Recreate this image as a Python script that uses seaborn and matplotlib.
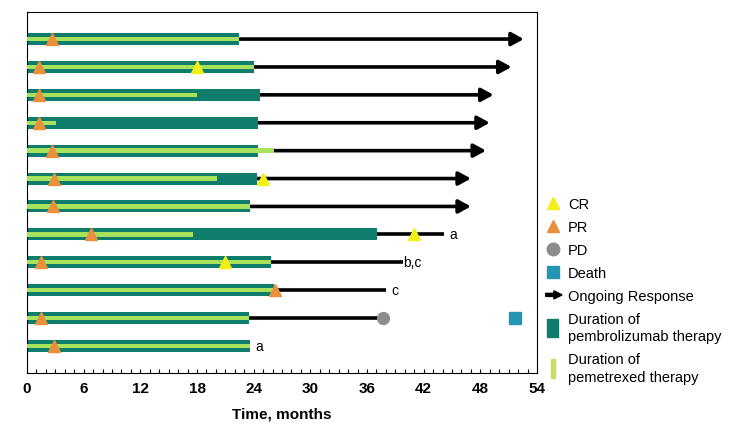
import matplotlib
matplotlib.use("Agg")
import matplotlib.pyplot as plt
import matplotlib.patches as mpatches
from matplotlib.lines import Line2D
from matplotlib.legend_handler import HandlerPatch
from matplotlib.ticker import MultipleLocator
import seaborn as sns

# one row per patient, top to bottom (months)
patients = ["P1", "P2", "P3", "P4", "P5", "P6", "P7", "P8", "P9", "P10", "P11", "P12"]
pembro_end = [22.4, 24.0, 24.7, 24.5, 24.5, 24.3, 23.6, 37.1, 25.8, 26.1, 23.5, 23.6]
pemetrexed_end = [22.4, 24.0, 18.0, 3.1, 26.1, 20.1, 23.6, 17.6, 25.8, 26.1, 23.5, 23.6]
pr_time = [2.65, 1.3, 1.3, 1.3, 2.65, 2.85, 2.75, 6.8, 1.5, 26.3, 1.5, 2.85]
cr_rows = [1, 5, 7, 8]
cr_time = [18.0, 25.0, 41.0, 21.0]
# follow-up lines; ongoing response drawn with an arrow head
followup_end = [52.6, 51.3, 49.4, 49.0, 48.6, 47.0, 47.0, 44.1, 39.8, 38.0, 37.7, None]
ongoing = [True, True, True, True, True, True, True, False, False, False, False, False]
pd_rows = [10]
pd_time = [37.7]
death_rows = [10]
death_time = [51.7]
notes = {7: (44.1, "a"), 8: (39.8, "b,c"), 9: (38.0, "c"), 11: (23.6, "a")}

c_pembro = "#0e7d6c"
c_pem = "#a6e25c"
c_cr = "#f2f014"
c_pr = "#e8903c"
c_pd = "#8c8c8c"
c_death = "#2496b4"

plt.rcParams['font.family'] = ['Liberation Sans', 'DejaVu Sans']

fig = plt.figure(figsize=(7.3, 4.35), dpi=100)
ax = fig.add_axes([27 / 730, 1 - 374 / 435, 510 / 730, 361 / 435])

# black follow-up lines (behind the bars)
for i, end in enumerate(followup_end):
    if end is None:
        continue
    if ongoing[i]:
        ax.annotate("", xy=(end, i), xytext=(pembro_end[i], i),
                    arrowprops=dict(arrowstyle="-|>,head_length=0.6,head_width=0.33",
                                    lw=2.6, color="black", mutation_scale=12,
                                    shrinkA=0, shrinkB=0), zorder=1)
    else:
        ax.plot([pembro_end[i], end], [i, i], color="black", lw=2.6,
                solid_capstyle="butt", zorder=1)

sns.barplot(x=pembro_end, y=patients, orient="h", color=c_pembro, saturation=1,
            width=0.43, linewidth=0, ax=ax, zorder=2)
sns.barplot(x=pemetrexed_end, y=patients, orient="h", color=c_pem, saturation=1,
            width=0.16, linewidth=0, ax=ax, zorder=3)

ax.plot(pr_time, range(len(patients)), ls="none", marker="^", ms=9,
        color=c_pr, zorder=5)
ax.plot(cr_time, cr_rows, ls="none", marker="^", ms=9, color=c_cr, zorder=5)
ax.plot(pd_time, pd_rows, ls="none", marker="o", ms=8.5, color=c_pd, zorder=5)
ax.plot(death_time, death_rows, ls="none", marker="s", ms=8.5, color=c_death, zorder=5)

for i, (x, s) in notes.items():
    pad = 0.0 if s == "b,c" else 0.6
    ax.text(x + pad, i, s, fontsize=10, va="center", ha="left")

ax.set_xlim(0, 54)
ax.set_ylim(11.97, -0.97)
ax.xaxis.set_major_locator(MultipleLocator(6))
ax.xaxis.set_minor_locator(MultipleLocator(1))
ax.tick_params(axis="x", which="both", direction="in", length=3, width=0.8,
               labelsize=11, pad=6)
for lab in ax.get_xticklabels():
    lab.set_fontweight("bold")
ax.set_yticks([])
ax.set_ylabel("")
ax.set_xlabel("Time, months", fontsize=11, fontweight="bold", labelpad=8)
for sp in ax.spines.values():
    sp.set_linewidth(0.8)
    sp.set_color("black")


def make_arrow(legend, orig_handle, xdescent, ydescent, width, height, fontsize):
    return mpatches.FancyArrow(0.1 * width, height / 2, 0.9 * width, 0, width=0.3 * height,
                               head_width=0.8 * height, head_length=0.45 * width,
                               length_includes_head=True, color="black")


def make_tall(legend, orig_handle, xdescent, ydescent, width, height, fontsize):
    return mpatches.Rectangle((0.2 * width, -0.4 * height), 0.6 * width, 1.8 * height)


def make_thin(legend, orig_handle, xdescent, ydescent, width, height, fontsize):
    return mpatches.Rectangle((0.42 * width, -0.4 * height), 0.2 * width, 1.8 * height)


arrow_handle = mpatches.FancyArrow(0, 0, 1, 0, color="black")
pembro_handle = mpatches.Rectangle((0, 0), 1, 1, color=c_pembro)
pem_handle = mpatches.Rectangle((0, 0), 1, 1, color="#c8e05c")
handles = [
    Line2D([], [], ls="none", marker="^", ms=9, color=c_cr),
    Line2D([], [], ls="none", marker="^", ms=9, color=c_pr),
    Line2D([], [], ls="none", marker="o", ms=9, color=c_pd),
    Line2D([], [], ls="none", marker="s", ms=9, color=c_death),
    arrow_handle, pembro_handle, pem_handle,
]
labels = ["CR", "PR", "PD", "Death", "Ongoing Response",
          "Duration of\npembrolizumab therapy", "Duration of\npemetrexed therapy"]
leg = fig.legend(handles, labels, loc="upper left", bbox_to_anchor=(538 / 730, 1 - 192 / 435),
                 frameon=False, fontsize=10.5, handlelength=1.25, handletextpad=0.4,
                 labelspacing=0.62, borderaxespad=0,
                 handler_map={arrow_handle: HandlerPatch(patch_func=make_arrow),
                              pembro_handle: HandlerPatch(patch_func=make_tall),
                              pem_handle: HandlerPatch(patch_func=make_thin)})
for t in leg.get_texts():
    t.set_linespacing(1.3)

fig.savefig("out.png", dpi=100)
